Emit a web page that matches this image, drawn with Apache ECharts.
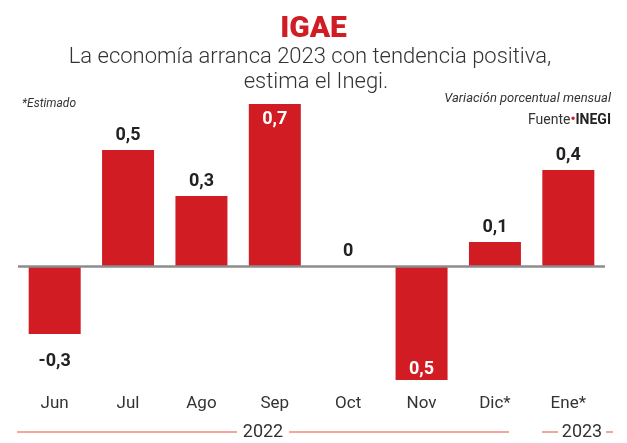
<!DOCTYPE html>
<html><head><meta charset="utf-8">
<script src="https://cdn.jsdelivr.net/npm/echarts@6/dist/echarts.min.js"></script>
<style>html,body{margin:0;padding:0;background:#fff}#c{width:627px;height:443px}</style>
</head><body><div id="c"></div>
<script>
const months = ["Jun","Jul","Ago","Sep","Oct","Nov","Dic*","Ene*"];
const values = [-0.296, 0.504, 0.304, 0.704, 0, -0.496, 0.104, 0.417];
const valueLabels = ["-0,3","0,5","0,3","0,7","0","0,5","0,1","0,4"];
const labelPlace = ["below","top","top","insideTop","top","insideBottom","top","top"];
const years = ["2022","2023"];

const RED = "#d01c22";
const FONT = "Roboto, sans-serif";

const data = values.map((v, i) => {
  const p = labelPlace[i];
  const lbl = {show: true, formatter: valueLabels[i], fontWeight: 'bold', fontSize: 18, fontFamily: FONT, color: '#222'};
  if (p === 'below') { lbl.position = 'bottom'; lbl.distance = 18; }
  else if (p === 'insideTop') { lbl.position = 'insideTop'; lbl.distance = 6; lbl.color = '#fff'; }
  else if (p === 'insideBottom') { lbl.position = 'insideBottom'; lbl.distance = 2; lbl.color = '#fff'; }
  else { lbl.position = 'top'; lbl.distance = 6; }
  return {value: v, label: lbl};
});

const chart = echarts.init(document.getElementById('c'), null, {renderer: 'canvas'});
chart.setOption({
  animation: false,
  grid: {left: 18, right: 22, top: 82, bottom: 50.5},
  title: [
    {text: 'IGAE', left: 'center', top: 9, textStyle: {color: RED, fontSize: 30, fontWeight: 900, fontFamily: FONT}}
  ],
  xAxis: {
    type: 'category', data: months, position: 'bottom',
    axisLine: {show: false, onZero: false}, axisTick: {show: false},
    axisLabel: {margin: 3, fontSize: 17, color: '#333', fontFamily: FONT}
  },
  yAxis: {type: 'value', min: -0.55, max: 0.8, show: false, splitLine: {show: false}},
  series: [{
    type: 'bar', data: data, barWidth: 52, itemStyle: {color: RED},
    markLine: {silent: true, symbol: 'none', label: {show: false},
      lineStyle: {color: '#8c8c8c', width: 2.5, type: 'solid'}, data: [{yAxis: 0}]}
  }],
  graphic: [
    {type: 'text', x: 310, y: 57, style: {text: 'La economía arranca 2023 con tendencia positiva,', fontSize: 22, fontWeight: 300, fill: '#333', align: 'center', verticalAlign: 'middle', fontFamily: FONT}},
    {type: 'text', x: 316, y: 82, style: {text: 'estima el Inegi.', fontSize: 22, fontWeight: 300, fill: '#333', align: 'center', verticalAlign: 'middle', fontFamily: FONT}},
    {type: 'text', left: 22, top: 98, style: {text: '*Estimado', fontSize: 12, fontStyle: 'italic', fill: '#333', fontFamily: FONT}},
    {type: 'text', right: 16, top: 92, style: {text: 'Variación porcentual mensual', fontSize: 13, fontStyle: 'italic', fill: '#333', fontFamily: FONT}},
    {type: 'text', right: 16, top: 113, style: {rich: {
        a: {fontSize: 14, fill: '#333', fontFamily: FONT},
        b: {fontSize: 14, fill: RED, fontWeight: 'bold', fontFamily: FONT},
        c: {fontSize: 14, fill: '#222', fontWeight: 'bold', fontFamily: FONT}},
      text: '{a|Fuente}{b|•}{c|INEGI}'}},
    {type: 'line', shape: {x1: 17, y1: 432, x2: 237, y2: 432}, style: {stroke: '#f0a898', lineWidth: 2}},
    {type: 'line', shape: {x1: 289, y1: 432, x2: 509, y2: 432}, style: {stroke: '#f0a898', lineWidth: 2}},
    {type: 'line', shape: {x1: 542, y1: 432, x2: 558, y2: 432}, style: {stroke: '#f0a898', lineWidth: 2}},
    {type: 'line', shape: {x1: 606, y1: 432, x2: 613, y2: 432}, style: {stroke: '#f0a898', lineWidth: 2}},
    {type: 'text', x: 263, y: 432, style: {text: years[0], fontSize: 18, fill: '#333', align: 'center', verticalAlign: 'middle', fontFamily: FONT}},
    {type: 'text', x: 582, y: 432, style: {text: years[1], fontSize: 18, fill: '#333', align: 'center', verticalAlign: 'middle', fontFamily: FONT}}
  ]
});
</script></body></html>
